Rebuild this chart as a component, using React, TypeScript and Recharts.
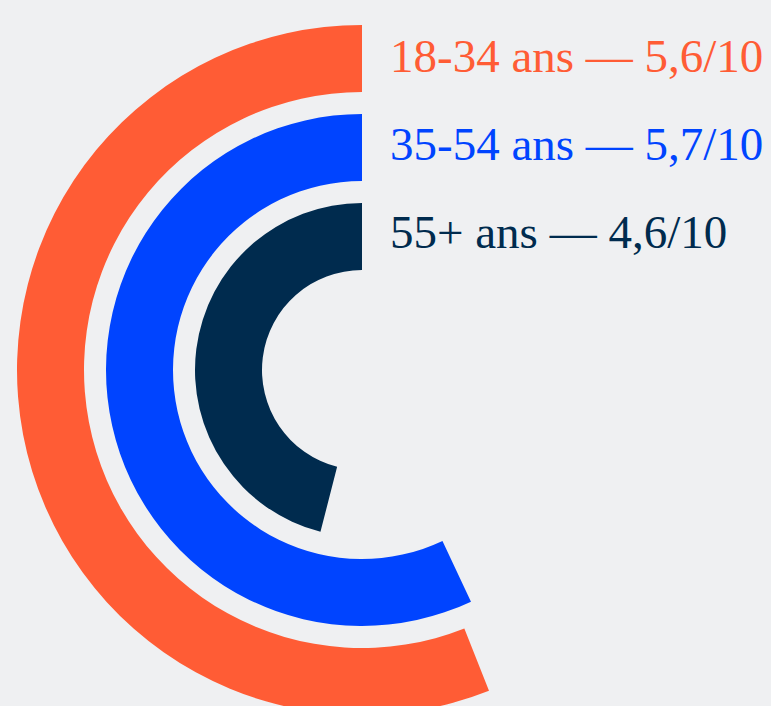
import { RadialBarChart, RadialBar, PolarAngleAxis, Cell } from 'recharts'

const groups = ['55+ ans', '35-54 ans', '18-34 ans']
const scores = [4.6, 5.7, 5.6]
const COLORS = ['#002b4e', '#0044ff', '#ff5c35']

// legend lines read top to bottom (outer ring first)
const legendOrder = [2, 1, 0]

const data = groups.map((name, i) => ({ name, value: scores[i] }))

const fmt = (v: number) => v.toFixed(1).replace('.', ',')

export default function App() {
  return (
    <div style={{ position: 'absolute', left: 0, top: 0, width: 771, height: 706, background: '#eff0f2', overflow: 'hidden' }}>
      <RadialBarChart
        width={771}
        height={706}
        cx={362}
        cy={370}
        innerRadius={89}
        outerRadius={356}
        startAngle={90}
        endAngle={450}
        data={data}
        margin={{ top: 0, right: 0, bottom: 0, left: 0 }}
      >
        <PolarAngleAxis type="number" domain={[0, 10]} tick={false} axisLine={false} />
        <RadialBar dataKey="value" barSize={67} isAnimationActive={false}>
          {data.map((entry, index) => (
            <Cell key={`cell-${index}`} fill={COLORS[index]} />
          ))}
        </RadialBar>
      </RadialBarChart>
      {legendOrder.map((idx, row) => (
        <div
          key={idx}
          style={{
            position: 'absolute',
            left: 390,
            top: 28 + row * 88,
            fontFamily: '"Liberation Serif", serif',
            fontSize: 47,
            lineHeight: '56px',
            color: COLORS[idx],
            whiteSpace: 'nowrap',
          }}
        >
          {`${groups[idx]} — ${fmt(scores[idx])}/10`}
        </div>
      ))}
    </div>
  )
}
